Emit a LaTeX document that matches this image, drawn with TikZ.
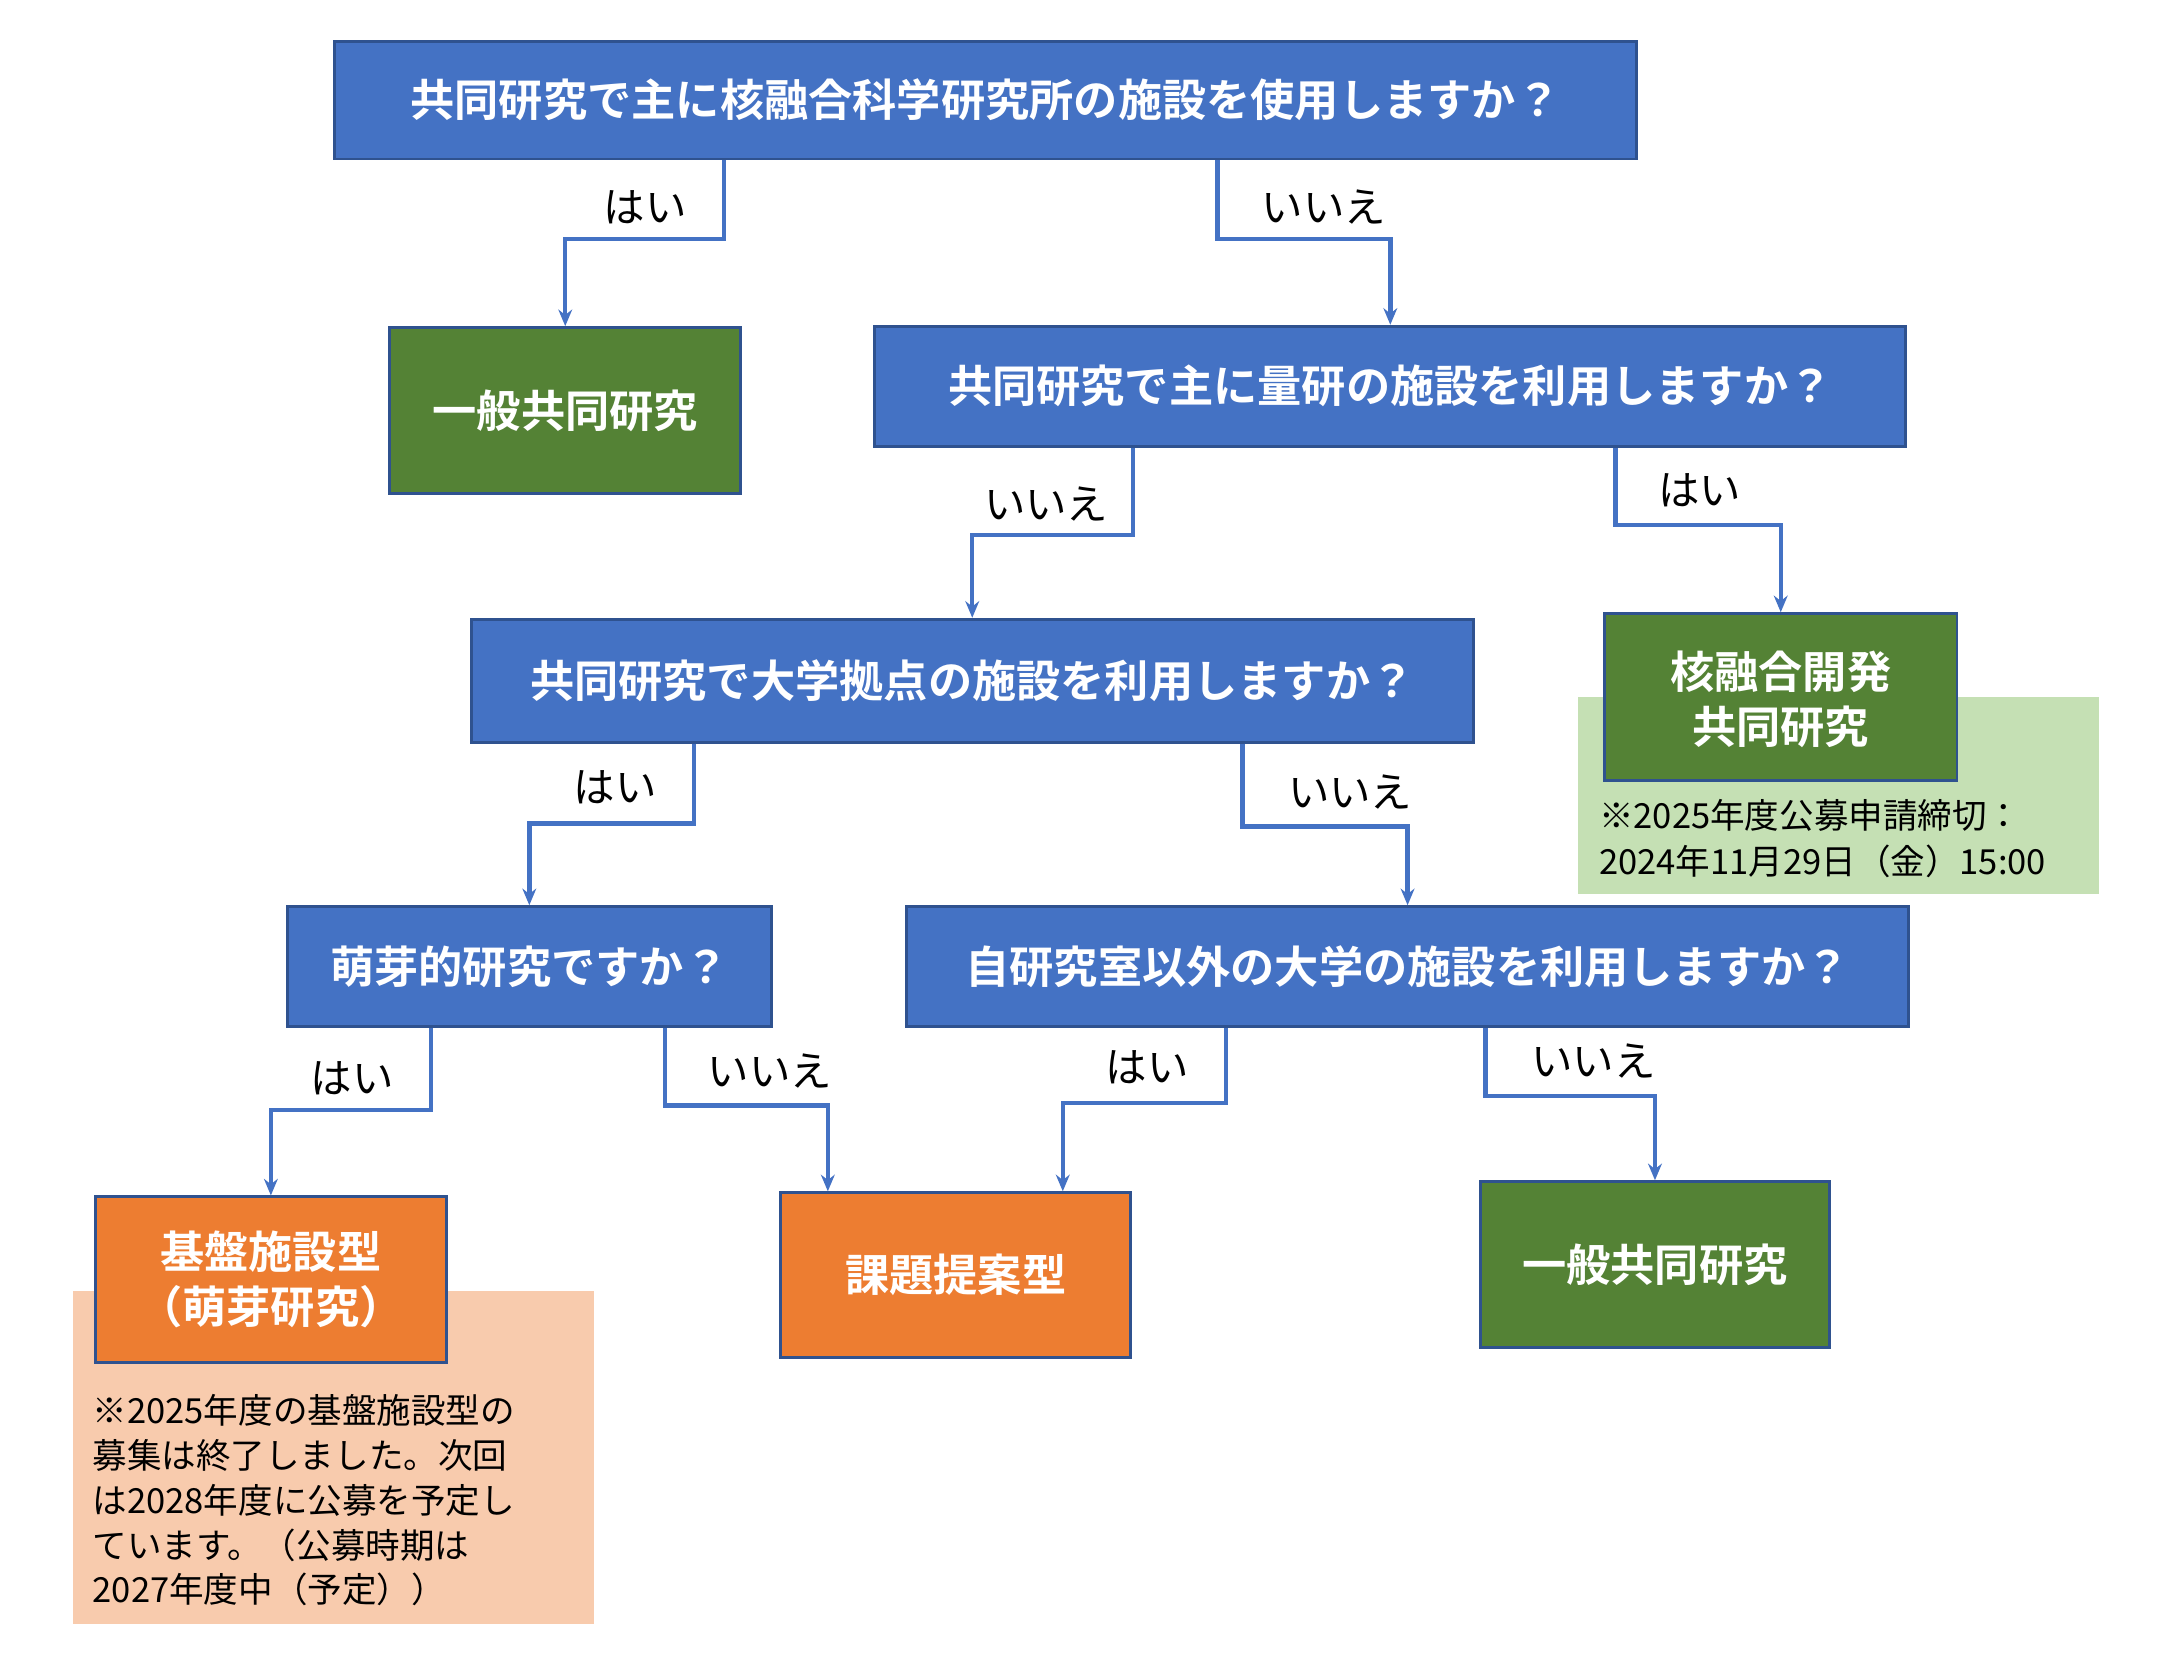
\documentclass[tikz,border=0pt]{standalone}
\usepackage{fontspec}
\setmainfont{Noto Sans CJK JP}
\newfontfamily\jpb{Noto Sans CJK JP Bold}
\usetikzlibrary{arrows.meta}
\definecolor{qblue}{HTML}{4472C4}
\definecolor{qborder}{HTML}{2F528F}
\definecolor{ggreen}{HTML}{548235}
\definecolor{gborder}{HTML}{385723}
\definecolor{oorange}{HTML}{ED7D31}
\definecolor{oborder}{HTML}{AE5A21}
\definecolor{lgreen}{HTML}{C5E0B4}
\definecolor{peach}{HTML}{F8CBAD}
\tikzset{
 box/.style={draw,line width=1pt,text=white,font=\jpb\fontsize{16}{20}\selectfont,align=center,inner sep=0pt},
 qbox/.style={box,fill=qblue,draw=qborder},
 gbox/.style={box,fill=ggreen,draw=qborder},
 obox/.style={box,fill=oorange,draw=qborder},
 lab/.style={font=\fontsize{15}{18}\selectfont,text=black},
 note/.style={font=\fontsize{12.5}{16}\selectfont,anchor=west,align=left,text=black},
 arr/.style={draw=qblue,line width=1.6pt,-{Stealth[length=6pt,width=5pt]}}
}
\begin{document}
\begin{tikzpicture}[x=0.5pt,y=0.5pt]
\useasboundingbox (0,0) rectangle (1568,-1203);
\fill[lgreen] (1142,-504) rectangle (1519,-647);
\fill[peach] (53,-934) rectangle (430,-1175);
\node[qbox,minimum width=471pt,minimum height=42.5pt] (q1) at (713,-72.5) {共同研究で主に核融合科学研究所の施設を使用しますか？};
\node[gbox,minimum width=127pt,minimum height=60pt] (g1) at (409,-297) {一般共同研究};
\node[qbox,minimum width=373pt,minimum height=43.5pt] (q2) at (1006,-279.5) {共同研究で主に量研の施設を利用しますか？};
\node[gbox,minimum width=127.5pt,minimum height=60.5pt,text depth=0pt] (g2) at (1288.5,-504.5) {核融合開発\\共同研究};
\node[qbox,minimum width=362.5pt,minimum height=44.5pt] (q3) at (703.5,-492.5) {共同研究で大学拠点の施設を利用しますか？};
\node[qbox,minimum width=175pt,minimum height=43.5pt] (q4) at (383,-699.5) {萌芽的研究ですか？};
\node[qbox,minimum width=362.5pt,minimum height=43.5pt] (q5) at (1018.5,-699.5) {自研究室以外の大学の施設を利用しますか？};
\node[obox,minimum width=127pt,minimum height=60pt] (o1) at (196,-926) {基盤施設型\\（萌芽研究）};
\node[obox,minimum width=126.5pt,minimum height=59.5pt] (o2) at (691.5,-922.5) {課題提案型};
\node[gbox,minimum width=126.5pt,minimum height=60pt] (g3) at (1197.5,-915) {一般共同研究};
\node[note] (n1) at (1150,-590) {※2025年度公募申請締切：};
\node[note] (n2) at (1150,-623) {2024年11月29日（金）15:00};
\node[note,font=\fontsize{12.5}{16.2}\selectfont,anchor=north west] (n3) at (60,-1002) {※2025年度の基盤施設型の\\募集は終了しました。次回\\は2028年度に公募を予定し\\ています。（公募時期は\\2027年度中（予定））};
\draw[arr] ([xshift=141.5pt]q1.south west) -- ++(0,-57) -| (g1.north);
\draw[arr] ([xshift=320pt]q1.south west) -- ++(0,-57) -| (q2.north);
\draw[arr] ([xshift=94pt]q2.south west) -- ++(0,-63) -| (q3.north);
\draw[arr] ([xshift=268.5pt]q2.south west) -- ++(0,-56) -| (g2.north);
\draw[arr] ([xshift=81pt]q3.south west) -- ++(0,-58) -| (q4.north);
\draw[arr] ([xshift=279.5pt]q3.south west) -- ++(0,-60) -| (q5.north);
\draw[arr] ([xshift=52.5pt]q4.south west) -- ++(0,-59) -| (o1.north);
\draw[arr] ([xshift=137pt]q4.south west) -- ++(0,-56) -| ([xshift=17.5pt]o2.north west);
\draw[arr] ([xshift=116pt]q5.south west) -- ++(0,-54) -| ([xshift=102.5pt]o2.north west);
\draw[arr] ([xshift=210pt]q5.south west) -- ++(0,-49) -| (g3.north);
\node[lab] (l1) at (467,-150) {はい};
\node[lab] (l2) at (958,-150) {いいえ};
\node[lab] (l3) at (757,-365) {いいえ};
\node[lab] (l4) at (1230,-355) {はい};
\node[lab] (l5) at (445,-570) {はい};
\node[lab] (l6) at (977,-573) {いいえ};
\node[lab] (l7) at (255,-780) {はい};
\node[lab] (l8) at (557,-775) {いいえ};
\node[lab] (l9) at (830,-772) {はい};
\node[lab] (l10) at (1153,-768) {いいえ};
\end{tikzpicture}
\end{document}
